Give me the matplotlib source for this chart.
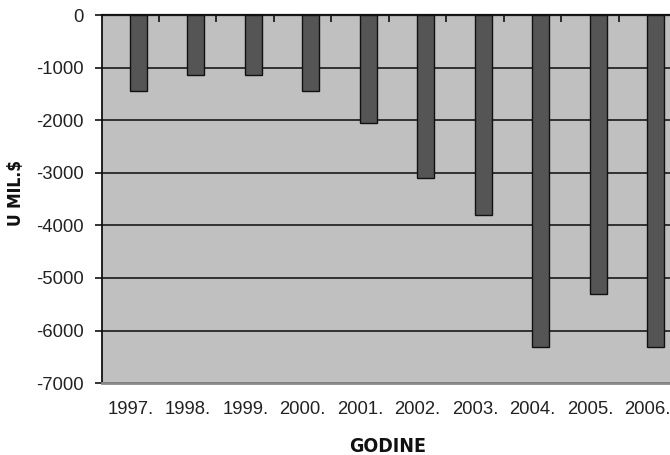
import matplotlib
matplotlib.use("Agg")
import matplotlib.pyplot as plt
import numpy as np

years = ["1997.", "1998.", "1999.", "2000.", "2001.",
         "2002.", "2003.", "2004.", "2005.", "2006."]
balance = [-1450, -1140, -1140, -1450, -2050,
           -3100, -3800, -6310, -5300, -6310]
y_ticks = [0, -1000, -2000, -3000, -4000, -5000, -6000, -7000]

plt.rcParams["font.family"] = ["Liberation Sans", "DejaVu Sans"]

fig = plt.figure(figsize=(6.7, 4.55), dpi=100)
fig.patch.set_facecolor("white")
ax = fig.add_axes([0.1515, 0.158, 0.8485, 0.809])
ax.set_facecolor("#c0c0c0")

x = np.arange(len(years))
ax.set_axisbelow(True)
ax.yaxis.grid(True, color="#1a1a1a", linewidth=1.2)
ax.bar(x + 0.14, balance, width=0.30, color="#555555",
       edgecolor="#111111", linewidth=1.0, zorder=3)

ax.set_xlim(-0.5, 9.39)
ax.set_ylim(-7000, 0)
ax.set_yticks(y_ticks)
ax.set_yticklabels([str(v) for v in y_ticks], fontsize=13.3, color="#222222")
ax.set_xticks(x)
ax.set_xticklabels(years, fontsize=13.3, color="#222222")
ax.tick_params(axis="x", length=0, pad=13)
ax.tick_params(axis="y", direction="out", length=5, width=1.2, color="#111111", pad=8)

for side in ("top", "right"):
    ax.spines[side].set_visible(False)
ax.spines["left"].set_color("#111111")
ax.spines["left"].set_linewidth(1.3)
ax.spines["bottom"].set_color("#8a8a8a")
ax.spines["bottom"].set_linewidth(2.0)

# category boundary ticks on the zero line
top = ax.secondary_xaxis("top")
top.set_xticks(x[:-1] + 0.5)
top.set_xticklabels([])
top.tick_params(direction="in", length=5, width=1.2, color="#111111")
top.spines["top"].set_color("#111111")
top.spines["top"].set_linewidth(1.6)

title_font = dict(family=["DejaVu Sans", "Liberation Sans"], fontstretch="condensed",
                  fontweight="bold", color="#111111")
fig.text(16 / 670, 1 - 193 / 455, "U MIL.$", rotation=90, ha="center", va="center",
         fontsize=12.5, **title_font)
fig.text(388 / 670, 1 - 446 / 455, "GODINE", ha="center", va="center",
         fontsize=14, **title_font)

fig.savefig("out.png", dpi=100, facecolor="white")
